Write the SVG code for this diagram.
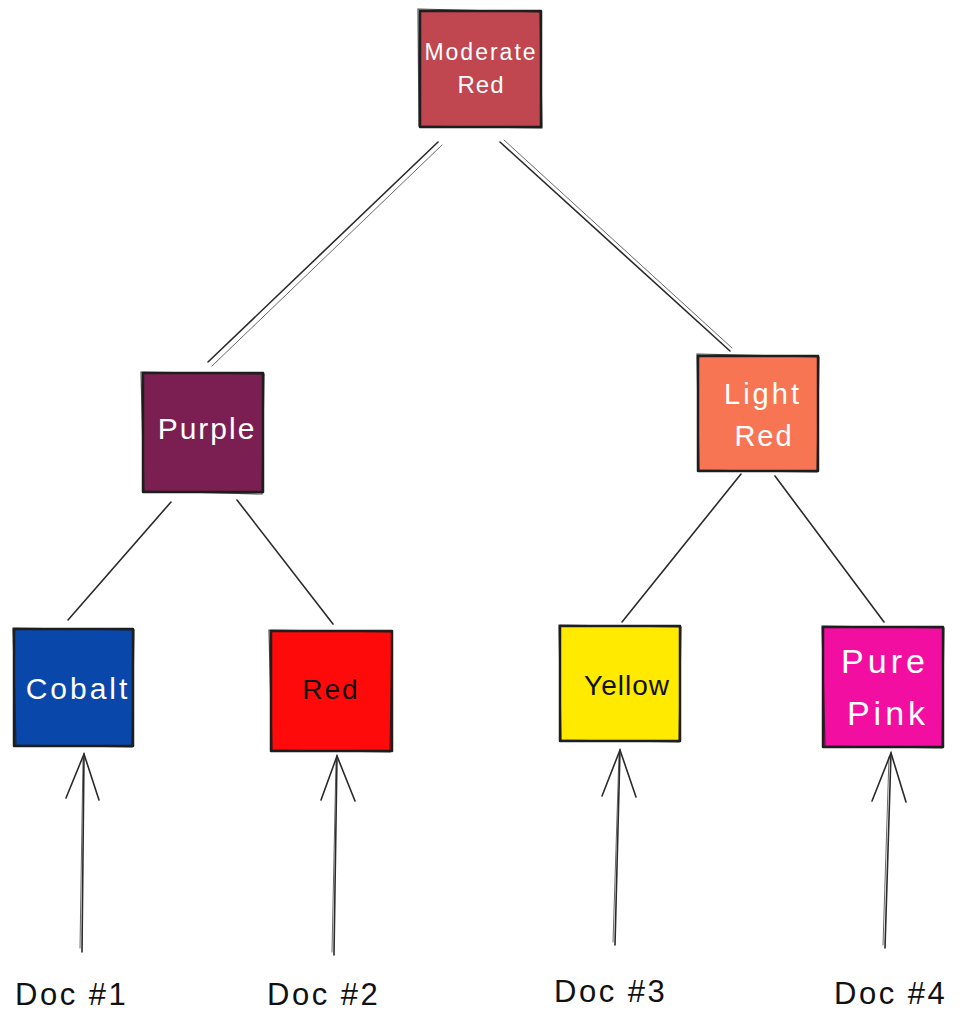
<svg xmlns="http://www.w3.org/2000/svg" width="964" height="1016" viewBox="0 0 964 1016">
<style>
.box{stroke:#1e1e1e;stroke-width:2.5;stroke-linejoin:round}
.sk{fill:none;stroke:#1e1e1e;stroke-width:1.2;opacity:0.8}
.ln{fill:none;stroke:#2a2a2a;stroke-width:1.6;stroke-linecap:round}
.ln2{fill:none;stroke:#2a2a2a;stroke-width:1;stroke-linecap:round;opacity:0.7}
.t{font-family:"Liberation Sans",Arial,sans-serif;text-anchor:middle}
.w{fill:#ffffff}
.k{fill:#111111}
.doc{font-family:"Liberation Sans",Arial,sans-serif;font-size:31px;fill:#111111;letter-spacing:2.5px}
</style>
<rect width="964" height="1016" fill="#ffffff"/>
<g id="connectors">
  <path class="ln" d="M438,142 L208,362"/>
  <path class="ln2" d="M442,145 L212,366"/>
  <path class="ln" d="M500,142 L730,351"/>
  <path class="ln2" d="M504,140 L732,348"/>
  <path class="ln" d="M171,502 L68,620"/>
  <path class="ln" d="M237,500 L333,624"/>
  <path class="ln" d="M741,474 L622,622"/>
  <path class="ln" d="M775,476 L884,622"/>
  <g id="arrow1">
    <path class="ln" d="M82,952 L84,754"/>
    <path class="ln2" d="M80,948 L83,758"/>
    <path class="ln" d="M66,798 L84,754 L99,800"/>
  </g>
  <g id="arrow2">
    <path class="ln" d="M334,955 L337,756"/>
    <path class="ln2" d="M332,952 L336,760"/>
    <path class="ln" d="M321,800 L337,756 L355,801"/>
  </g>
  <g id="arrow3">
    <path class="ln" d="M615,945 L620,750"/>
    <path class="ln2" d="M613,942 L619,754"/>
    <path class="ln" d="M602,796 L620,750 L636,797"/>
  </g>
  <g id="arrow4">
    <path class="ln" d="M885,948 L891,753"/>
    <path class="ln2" d="M883,945 L889,757"/>
    <path class="ln" d="M872,801 L891,753 L906,802"/>
  </g>
</g>
<g id="node-moderate-red">
  <rect class="box" x="420" y="11" width="121" height="116" fill="#c0464f"/>
  <path class="sk" d="M418,9 L540,12 L542,128 L419,126 Z"/>
  <text class="t w" x="481" y="60" font-size="23" letter-spacing="2">Moderate</text>
  <text class="t w" x="481" y="93" font-size="24" letter-spacing="1">Red</text>
</g>
<g id="node-purple">
  <rect class="box" x="143" y="373" width="120" height="119" fill="#7b1f52"/>
  <path class="sk" d="M141,372 L264,374 L262,494 L144,491 Z"/>
  <text class="t w" x="207" y="439" font-size="30" letter-spacing="2">Purple</text>
</g>
<g id="node-light-red">
  <rect class="box" x="698" y="356" width="120" height="115" fill="#f87554"/>
  <path class="sk" d="M697,354 L819,357 L817,472 L699,470 Z"/>
  <text class="t w" x="763" y="404" font-size="29" letter-spacing="3">Light</text>
  <text class="t w" x="764" y="446" font-size="29" letter-spacing="2">Red</text>
</g>
<g id="node-cobalt">
  <rect class="box" x="14" y="629" width="119" height="117" fill="#0a47aa"/>
  <path class="sk" d="M13,628 L134,630 L132,747 L16,745 Z"/>
  <text class="t w" x="78" y="699" font-size="30" letter-spacing="3">Cobalt</text>
</g>
<g id="node-red">
  <rect class="box" x="271" y="631" width="121" height="120" fill="#ff0a0a"/>
  <path class="sk" d="M269,630 L392,632 L390,752 L272,750 Z"/>
  <text class="t k" x="331" y="699" font-size="28" letter-spacing="2">Red</text>
</g>
<g id="node-yellow">
  <rect class="box" x="560" y="626" width="120" height="115" fill="#ffea00"/>
  <path class="sk" d="M559,625 L681,627 L679,742 L561,740 Z"/>
  <text class="t k" x="627" y="695" font-size="28" letter-spacing="1">Yellow</text>
</g>
<g id="node-pure-pink">
  <rect class="box" x="823" y="627" width="120" height="120" fill="#f30ea2"/>
  <path class="sk" d="M822,626 L944,628 L942,748 L825,746 Z"/>
  <text class="t w" x="885" y="673" font-size="34" letter-spacing="4">Pure</text>
  <text class="t w" x="888" y="725" font-size="34" letter-spacing="4">Pink</text>
</g>
<g id="label-doc1"><text class="doc" x="15" y="1005">Doc #1</text></g>
<g id="label-doc2"><text class="doc" x="267" y="1005">Doc #2</text></g>
<g id="label-doc3"><text class="doc" x="554" y="1002">Doc #3</text></g>
<g id="label-doc4"><text class="doc" x="834" y="1004">Doc #4</text></g>
</svg>
